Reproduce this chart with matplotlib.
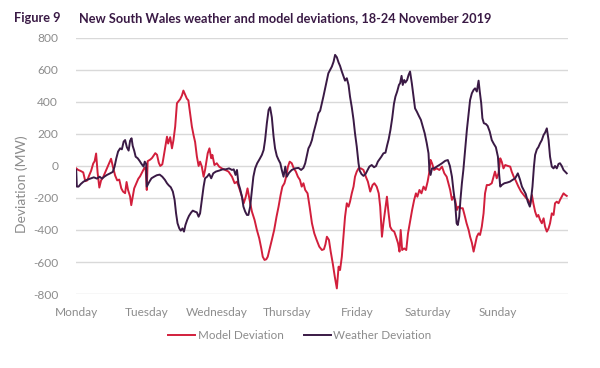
import numpy as np
import matplotlib
matplotlib.use("Agg")
import matplotlib.pyplot as plt

# hours from Monday 00:00, 18-24 November 2019
model_hours = [0, 0.7, 1.4, 2.4, 3.1, 3.8, 4.4, 5.1, 5.8, 6.3, 6.8, 7.3, 7.9, 8.5, 9.2, 9.9,
               10.6, 11.3, 11.9, 12.6, 13.3, 14.0, 14.7, 15.4, 16.0, 16.7, 17.2, 17.7, 18.4,
               18.8, 19.5, 19.8, 20.5, 21.2, 21.8, 22.5, 23.2, 23.7, 24.1, 24.4, 25.3, 25.9,
               27.0, 27.6, 28.2, 28.7, 29.4, 29.7, 31.0, 31.4, 32.1, 32.7, 33.2, 33.8, 34.4,
               35.5, 36.1, 36.6, 37.2, 37.8, 38.3, 38.9, 39.5, 40.1, 40.6, 41.2, 41.8,
               42.3, 42.9, 43.5, 44.0, 44.9, 45.5, 46.1, 46.5, 47.2, 48.0, 48.8, 49.7, 50.9,
               52.0, 53.2, 54.1, 54.9, 55.7, 56.6, 57.2, 57.9, 58.5, 59.2, 60.0, 60.9, 61.7,
               62.5, 63.2, 63.7, 64.3, 64.9, 65.4, 66.1, 66.8, 67.6, 68.4, 69.1, 69.8, 70.4,
               71.1, 71.7, 72.3, 72.9, 73.6, 74.3, 75.0, 75.7, 76.4, 77.0, 77.6, 78.2, 79.0,
               79.7, 80.5, 81.3, 82.1, 83.0, 83.9, 84.6, 85.1, 85.6, 86.3, 86.9, 87.6, 88.3,
               89.0, 89.6, 90.1, 90.7, 91.3, 91.8, 92.4, 93.0, 93.5, 94.1, 94.7, 95.2, 95.8,
               96.4, 97.2, 98.1, 98.9, 99.6, 100.4, 101.2, 101.8, 102.6, 103.3, 103.8, 104.4,
               104.9, 105.5, 106.1, 106.6, 107.2, 107.8, 108.6, 109.2, 109.9, 110.4, 110.8,
               111.3, 112.0, 112.7, 113.3, 114.0, 114.7, 115.4, 116.0, 116.5, 117.2, 117.9,
               118.6, 119.3, 120.0, 120.5, 121.0, 121.5, 122.2, 123.1, 124.0, 124.9, 125.7,
               126.5, 127.1, 127.7, 128.3, 128.8, 129.4, 130.0, 130.5, 131.3, 132.0, 132.6,
               133.3, 134.0, 134.5, 135.1, 135.7, 136.2, 136.8, 137.4, 137.9, 138.5, 139.1,
               139.6, 140.2, 141.0, 141.9, 142.5, 143.0, 143.6, 144.2, 144.8, 145.3, 145.9,
               146.5, 147.4, 148.2, 148.7, 149.4, 150.1, 151.0, 151.9, 152.8, 153.7, 154.4,
               155.0, 155.6, 156.1, 156.7, 157.3, 157.8, 158.4, 159.0, 159.6, 160.1, 160.7,
               161.3, 161.8, 162.4, 163.0, 163.5, 164.1, 164.7, 165.2, 165.8, 166.4, 167.0,
               167.5]
model_dev = [-15, -25, -30, -40, -95, -90, -60, -30, 15, 30, 78, -40, -135, -90, -70, -40,
             -10, 20, 45, -10, -60, -90, -85, -140, -160, -170, -100, -150, -190,
             -245, -170, -140, -110, -80, -65, -40, -15, -10, -150, 30, 40, 50,
             80, 70, 20, 0, 10, 40, 183, 140, 180, 110, 160, 246, 392,
             417, 440, 471, 445, 420, 410, 330, 246, 190, 150, 60, 0,
             27, -4, -67, -25, 79, 110, 48, 69, 6, 17, -4, -15, -25,
             -35, -67, -108, -98, -140, -192, -233, -192, -140, -212, -285, -337, -400,
             -452, -515, -567, -587, -583, -567, -515, -462, -400, -317, -254, -181, -129,
             -108, -67, -4, 27, 17, -15, -35, -67, -87, -129, -108, -150, -171,
             -254, -358, -421, -462, -504, -525, -520, -490, -442, -462, -535, -608, -692,
             -765, -629, -650, -567, -431, -317, -233, -254, -223, -171, -129, -67, -35,
             -15, -15, -25, -67, -98, -160, -119, -108, -129, -171, -254, -442,
             -358, -275, -192, -285, -379, -400, -410, -442, -483, -535, -400,
             -525, -515, -525, -421, -348, -275, -212, -171, -192, -150, -171,
             -129, -150, -98, -46, 38, 17, -25, -15, -25, -4, -46,
             -67, -108, -150, -212, -192, -212, -275, -254, -264, -264, -306,
             -358, -400, -442, -479, -535, -494, -442, -421, -431, -379, -296,
             -171, -119, -119, -108, -67, -35, -77, -46, 48, 27, -15,
             6, 0, -4, -35, -67, -92, -129, -160, -181, -202, -212,
             -244, -181, -233, -285, -317, -306, -337, -358, -327, -379, -410,
             -390, -358, -296, -306, -233, -223, -233, -212, -192, -171, -181,
             -187]

weather_hours = [0, 0.23, 0.8, 1.6, 2.5, 3.6, 4.8, 6.0, 7.1, 8.0, 8.8, 9.6, 10.5, 11.6, 12.5,
                 13.1, 13.7, 14.3, 15.0, 15.6, 16.2, 16.7, 17.3, 17.9, 18.4, 18.9, 19.3, 19.8,
                 20.3, 21.0, 21.6, 22.3, 23.0, 23.4, 23.9, 24.1, 24.8, 25.7, 26.6, 27.5, 28.5,
                 29.4, 30.3, 31.0, 31.6, 32.3, 33.0, 33.6, 34.1, 34.6, 35.2, 35.7, 36.3, 36.8,
                 37.3, 37.9, 38.5, 39.2, 39.8, 40.5, 41.2, 41.8, 42.3, 42.9, 43.5, 44.0, 44.7,
                 45.4, 46.1, 46.8, 47.7, 48.8, 50.0, 51.1, 52.2, 53.2, 53.8, 54.4, 54.9, 55.4,
                 56.0, 56.6, 57.1, 57.7, 58.3, 58.8, 59.4, 60.0, 60.5, 61.1, 61.8, 62.6, 63.4,
                 64.0, 64.5, 65.1, 65.7, 66.2, 66.8, 67.4, 67.9, 68.5, 69.1, 69.7, 70.2, 70.8,
                 71.4, 71.9, 72.7, 73.6, 74.8, 75.9, 76.8, 77.6, 78.2, 78.8, 79.3, 79.9, 80.5,
                 81.0, 81.6, 82.2, 82.7, 83.3, 83.9, 84.4, 85.0, 85.6, 86.1, 86.7, 87.3, 87.9,
                 88.4, 89.0, 89.6, 90.1, 90.7, 91.3, 91.8, 92.4, 93.0, 93.5, 94.1, 94.7, 95.2,
                 95.8, 96.4, 96.8, 97.4, 98.1, 98.8, 99.5, 100.1, 100.9, 101.7, 102.4, 103.0,
                 103.6, 104.2, 104.9, 105.6, 106.2, 106.7, 107.3, 107.9, 108.5, 109.0, 109.6,
                 110.2, 110.6, 111.1, 111.5, 112.0, 112.4, 113.0, 113.5, 114.0, 114.6, 115.2,
                 115.7, 116.3, 117.0, 117.7, 118.3, 119.0, 119.7, 120.3, 120.6, 121.0, 121.5,
                 122.2, 123.1, 124.0, 124.9, 126.0, 126.9, 127.6, 128.3, 128.8, 129.4, 129.9,
                 130.3, 130.8, 131.2, 131.7, 132.2, 132.8, 133.4, 134.0, 134.5, 135.1, 135.7,
                 136.2, 136.8, 137.4, 137.8, 138.3, 138.7, 139.2, 139.9, 140.5, 141.2, 141.9,
                 142.6, 143.3, 144.0, 144.4, 144.8, 145.3, 146.2, 147.1, 148.1, 149.0, 149.9,
                 150.8, 151.5, 152.2, 152.8, 153.5, 154.2, 154.9, 155.3, 155.8, 156.3, 156.7,
                 157.3, 157.8, 158.4, 159.0, 159.6, 160.1, 160.7, 161.3, 161.8, 162.4, 163.0,
                 163.5, 164.1, 164.7, 165.2, 165.8, 166.4, 167.0, 167.5]
weather_dev = [-25, -129, -129, -112, -98, -87, -79, -71, -79, -67, -79, -67, -56, -46, -37,
               -4, 48, 90, 110, 104, 152, 162, 117, 96, 158, 173, 125, 96,
               58, 48, 33, 13, -4, 27, 13, -129, -104, -77, -67, -58, -54,
               -67, -87, -108, -121, -133, -160, -212, -296, -358, -390, -404, -390, -410,
               -369, -337, -312, -292, -279, -285, -290, -317, -296, -212, -129, -77, -67,
               -50, -77, -46, -35, -29, -21, -21, -15, -25, -21, -56, -25, -108,
               -146, -192, -254, -285, -306, -306, -254, -150, -67, -15, 17, 42, 69,
               100, 162, 267, 350, 367, 304, 183, 110, 63, 38, 17, -25, -67,
               -4, -67, -42, -25, -15, -12, -25, -12, 17, 69, 110, 131, 162,
               204, 246, 288, 329, 345, 392, 433, 485, 537, 579, 600, 621, 652,
               694, 679, 646, 625, 590, 558, 533, 548, 506, 433, 367, 288, 204,
               121, 17, -29, -50, -62, -50, -25, -4, 6, -8, 0, 27,
               42, 58, 79, 83, 131, 167, 225, 298, 388, 433, 465,
               506, 517, 563, 506, 537, 521, 537, 569, 590, 517, 433,
               360, 340, 313, 288, 250, 204, 142, 79, -25, -56, -15,
               -15, -4, 6, 17, 32, 37, 0, -67, -150, -233, -358,
               -369, -317, -212, -108, -25, 100, 225, 329, 412, 454, 475,
               485, 465, 533, 465, 392, 298, 267, 262, 250, 215, 162,
               138, 117, 58, -46, -129, -119, -108, -104, -98, -87, -77,
               -46, -83, -129, -150, -175, -223, -254, -212, -129, -4, 69,
               104, 117, 142, 162, 194, 208, 235, 162, 58, -4, -15,
               0, -15, 13, 17, 0, -25, -37, -46]

day_labels = ["Monday", "Tuesday", "Wednesday", "Thursday", "Friday", "Saturday", "Sunday"]
y_ticks = [800, 600, 400, 200, 0, -200, -400, -600, -800]

plt.rcParams['font.family'] = ['Lato', 'DejaVu Sans']

red = "#d21f3c"
purple = "#3a1a45"
grey = "#8c8c8c"

fig = plt.figure(figsize=(6, 3.68), dpi=100)
ax = fig.add_axes([0.127, 0.201, 0.82, 0.696])

ax.plot(model_hours, model_dev, color=red, lw=1.4, label="Model Deviation", zorder=3)
ax.plot(weather_hours, weather_dev, color=purple, lw=1.4, label="Weather Deviation", zorder=3)

ax.set_xlim(0, 168)
ax.set_ylim(-800, 800)
ax.set_xticks(np.arange(len(day_labels)) * 24)
ax.set_xticklabels(day_labels)
ax.set_yticks(y_ticks)
ax.set_yticklabels([str(v) for v in y_ticks])
ax.tick_params(axis='both', length=0, colors=grey, labelsize=8.6)
ax.tick_params(axis='x', pad=9)
ax.tick_params(axis='y', pad=13)
ax.grid(axis='y', color="#d9d9d9", lw=1)
ax.set_axisbelow(True)
for s in ax.spines.values():
    s.set_visible(False)

fig.text(0.037, 0.5, "Deviation (MW)", rotation=90, color=grey, fontsize=10,
         ha='center', va='center')

fig.text(0.023, 0.951, "Figure 9", color=purple, fontsize=9.2, fontweight='bold',
         va='center')
fig.text(0.132, 0.951, "New South Wales weather and model deviations, 18-24 November 2019",
         color=purple, fontsize=9.2, fontweight='bold', va='center')

fig.legend(loc='center', bbox_to_anchor=(0.5, 0.087), ncol=2, frameon=False,
           fontsize=8.4, labelcolor=grey, handlelength=2.3, handletextpad=0.25,
           columnspacing=1.7)

fig.savefig("out.png", dpi=100)
